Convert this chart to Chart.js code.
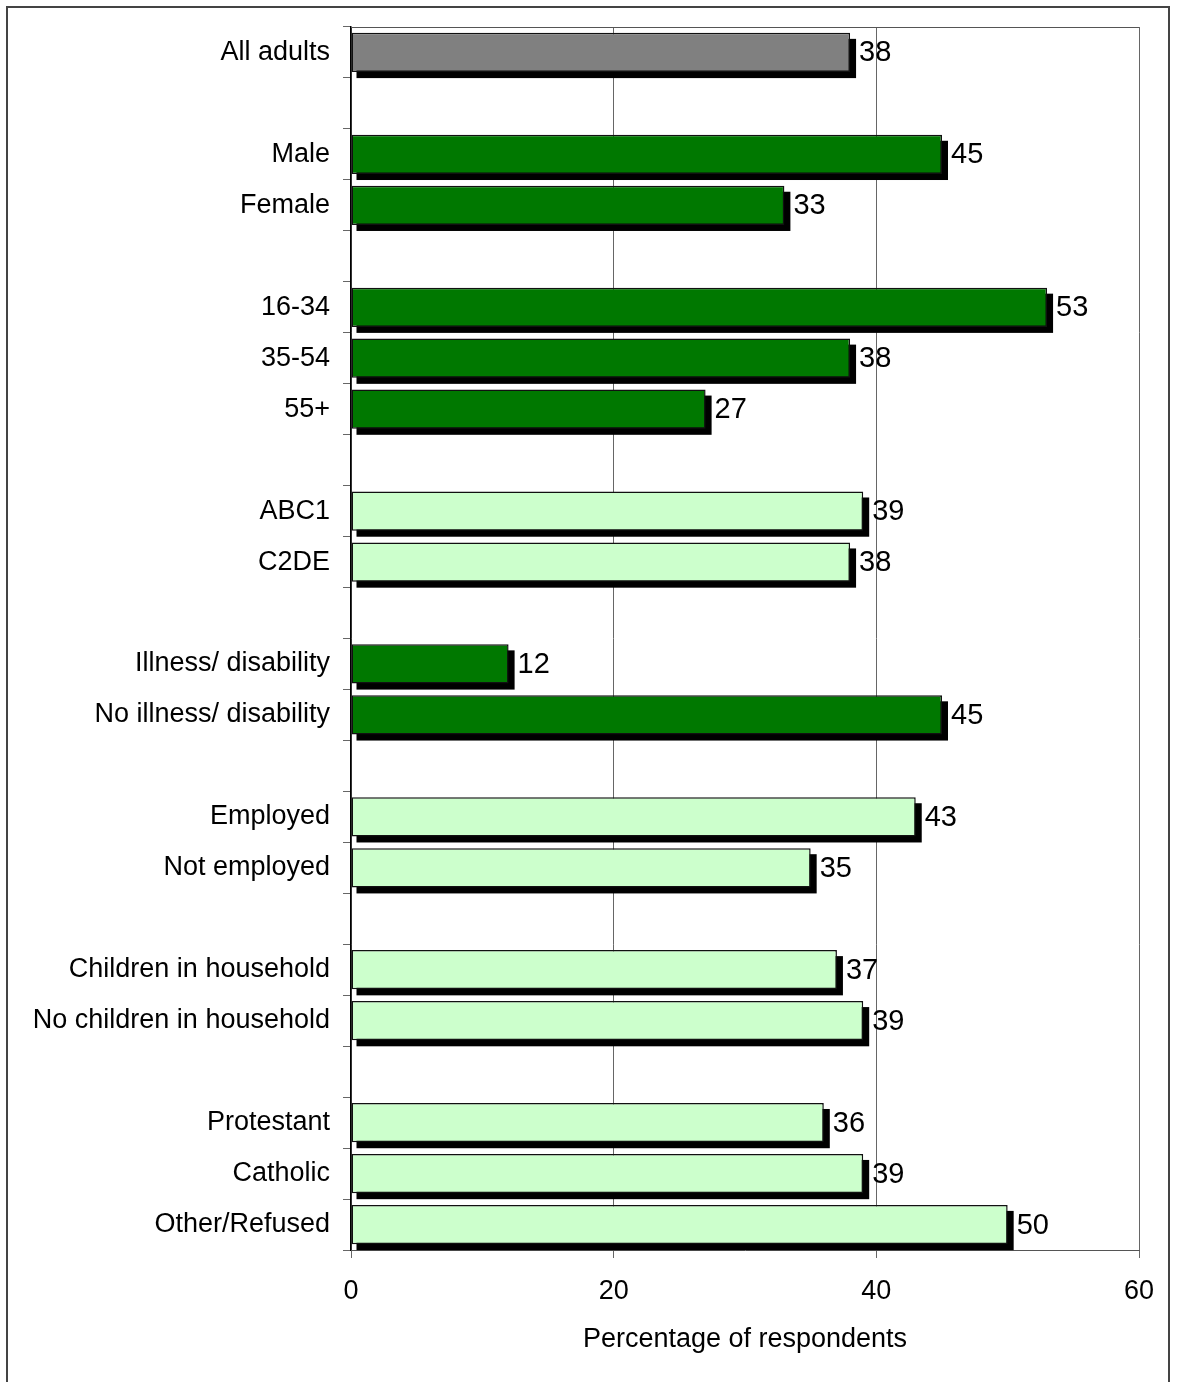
<!DOCTYPE html>
<html lang="en">
<head>
    <meta charset="UTF-8">
    <title>Percentage of respondents by group</title>
    <script src="https://cdn.jsdelivr.net/npm/chart.js"></script>
    <style>
        body { margin: 0; background: #fff; }
        #frame { position: absolute; left: 6px; top: 6px; width: 1160px; height: 1400px; border: 2px solid #444; }
        #wrap { position: absolute; left: 0; top: 0; width: 1177px; height: 1382px; }
    </style>
</head>
<body>
    <div id="frame"></div>
    <div id="wrap"><canvas id="chartCanvas"></canvas></div>

    <script>
        // blank strings are the spacer rows between groups
        const categories = [
            'All adults', '',
            'Male', 'Female', '',
            '16-34', '35-54', '55+', '',
            'ABC1', 'C2DE', '',
            'Illness/ disability', 'No illness/ disability', '',
            'Employed', 'Not employed', '',
            'Children in household', 'No children in household', '',
            'Protestant', 'Catholic', 'Other/Refused'
        ];
        const values = [
            38, null,
            45, 33, null,
            53, 38, 27, null,
            39, 38, null,
            12, 45, null,
            43, 35, null,
            37, 39, null,
            36, 39, 50
        ];
        // which fill each bar gets
        const shades = [
            'all', '',
            'dark', 'dark', '',
            'dark', 'dark', 'dark', '',
            'light', 'light', '',
            'dark', 'dark', '',
            'light', 'light', '',
            'light', 'light', '',
            'light', 'light', 'light'
        ];
        const xTicks = [0, 20, 40, 60];

        const fills = { all: '#808080', dark: '#007800', light: '#ccffcc', '': 'rgba(0,0,0,0)' };

        // black drop shadow behind each bar
        const shadowPlugin = {
            id: 'shadow',
            beforeDatasetsDraw(chart) {
                const ctx = chart.ctx;
                const meta = chart.getDatasetMeta(0);
                ctx.save();
                ctx.fillStyle = '#000';
                meta.data.forEach((bar, i) => {
                    if (values[i] === null) return;
                    const p = bar.getProps(['x', 'y', 'base', 'height'], true);
                    ctx.fillRect(p.base + 5, p.y - p.height / 2 + 6, p.x - p.base + 1, p.height);
                });
                ctx.restore();
            }
        };

        // numbers after the bars + top border of plot area
        const labelPlugin = {
            id: 'barLabels',
            afterDatasetsDraw(chart) {
                const ctx = chart.ctx;
                const meta = chart.getDatasetMeta(0);
                ctx.save();
                ctx.font = '29px "Liberation Sans", Arial, sans-serif';
                ctx.fillStyle = '#000';
                ctx.textBaseline = 'middle';
                ctx.textAlign = 'left';
                meta.data.forEach((bar, i) => {
                    if (values[i] === null) return;
                    ctx.fillText(String(values[i]), bar.x + 9, bar.y + 1);
                });
                const a = chart.chartArea;
                ctx.strokeStyle = '#555';
                ctx.lineWidth = 1;
                ctx.beginPath();
                ctx.moveTo(a.left, a.top + 0.5);
                ctx.lineTo(a.right, a.top + 0.5);
                ctx.stroke();
                ctx.restore();
            }
        };

        const font = { family: '"Liberation Sans", Arial, sans-serif', size: 27 };

        new Chart(document.getElementById('chartCanvas'), {
            type: 'bar',
            data: {
                labels: categories,
                datasets: [{
                    data: values,
                    backgroundColor: shades.map(s => fills[s]),
                    borderColor: '#111',
                    borderWidth: 1.5,
                    borderSkipped: false,
                    barPercentage: 0.77,
                    categoryPercentage: 1
                }]
            },
            options: {
                indexAxis: 'y',
                responsive: true,
                maintainAspectRatio: false,
                animation: false,
                layout: { padding: { top: 27, right: 38, bottom: 20, left: 0 } },
                plugins: {
                    legend: { display: false },
                    tooltip: { enabled: false }
                },
                scales: {
                    y: {
                        offset: true,
                        afterFit(scale) {
                            scale.width = 351;
                            scale.paddingTop = 0;
                            scale.paddingBottom = 0;
                        },
                        grid: { offset: true, drawOnChartArea: false, tickLength: 8, color: '#666' },
                        border: { color: '#000', width: 1.5 },
                        ticks: { font: font, color: '#000', padding: 13, autoSkip: false }
                    },
                    x: {
                        min: 0,
                        max: 60,
                        afterFit(scale) { scale.height = 112; },
                        afterBuildTicks(scale) { scale.ticks = xTicks.map(v => ({ value: v })); },
                        grid: { color: '#666', tickLength: 8 },
                        border: { color: '#555' },
                        ticks: { font: font, color: '#000', padding: 17 },
                        title: {
                            display: true,
                            text: 'Percentage of respondents',
                            font: font,
                            color: '#000',
                            padding: { top: 0, bottom: 6 }
                        }
                    }
                }
            },
            plugins: [shadowPlugin, labelPlugin]
        });
    </script>
</body>
</html>
